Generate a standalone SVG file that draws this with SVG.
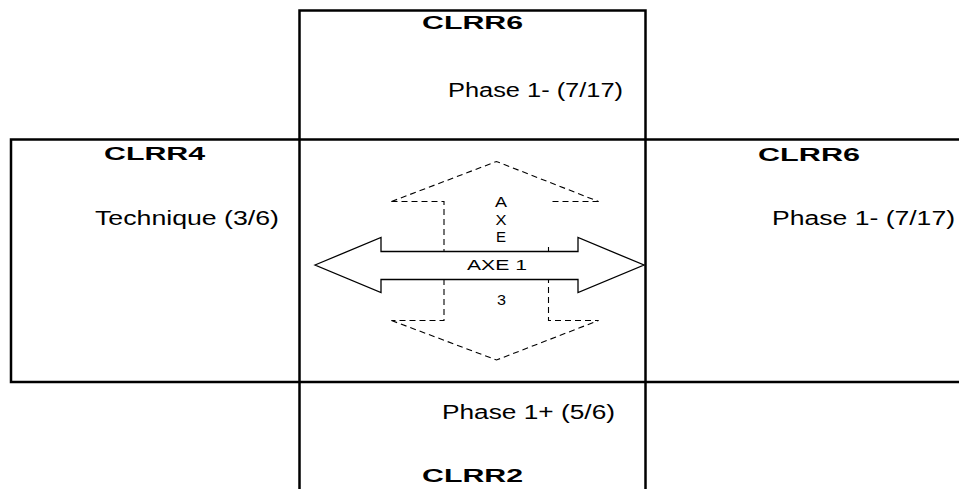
<svg xmlns="http://www.w3.org/2000/svg" width="959" height="489" viewBox="0 0 959 489">
<style>
.box{fill:none;stroke:#000;stroke-width:2.5}
.title{font-family:"Liberation Sans",Arial,sans-serif;font-weight:bold;font-size:19px;fill:#000}
.lbl{font-family:"Liberation Sans",Arial,sans-serif;font-size:20px;fill:#000}
.small{font-family:"Liberation Sans",Arial,sans-serif;font-size:14.5px;fill:#000}
.solid{fill:#fff;stroke:#000;stroke-width:1.3;stroke-linejoin:miter}
.dash{fill:none;stroke:#000;stroke-width:1.1;stroke-dasharray:6,4}
</style>
<rect width="959" height="489" fill="#fff"/>
<g id="frames">
  <rect class="box" x="11" y="139.5" width="960" height="242.5"/>
  <rect class="box" x="299.5" y="10.5" width="346" height="490"/>
</g>
<g id="connectors">
  <g id="axe3">
    <polyline class="dash" points="391.5,201.5 444,201.5 444,320.5 391.5,320.5"/>
    <polyline class="dash" points="598.5,201.5 548.5,201.5"/>
    <polyline class="dash" points="548.5,247 548.5,320.5 598.5,320.5"/>
    <polyline class="dash" points="391.5,201.5 496.5,161.5 598.5,201.5"/>
    <polyline class="dash" points="391.5,320.5 496.5,360 598.5,320.5"/>
  </g>
  <g id="axe1">
    <polygon class="solid" points="315,265 381,237.5 381,251.5 578,251.5 578,237.5 644,265 578,292.5 578,279.5 381,279.5 381,292.5"/>
  </g>
  <text class="small" x="495" y="206.5" textLength="12" lengthAdjust="spacingAndGlyphs">A</text>
  <text class="small" x="495.5" y="225" textLength="11" lengthAdjust="spacingAndGlyphs">X</text>
  <text class="small" x="496" y="241.5" textLength="10" lengthAdjust="spacingAndGlyphs">E</text>
  <text class="small" x="467" y="270" textLength="60" lengthAdjust="spacingAndGlyphs">AXE 1</text>
  <text class="small" x="497" y="305" textLength="9" lengthAdjust="spacingAndGlyphs">3</text>
</g>
<g id="node-clrr6-top">
  <text class="title" x="422" y="29" textLength="101" lengthAdjust="spacingAndGlyphs">CLRR6</text>
  <text class="lbl" x="448" y="97" textLength="175" lengthAdjust="spacingAndGlyphs">Phase 1- (7/17)</text>
</g>
<g id="node-clrr4">
  <text class="title" x="104" y="160" textLength="101" lengthAdjust="spacingAndGlyphs">CLRR4</text>
  <text class="lbl" x="95" y="225" textLength="184" lengthAdjust="spacingAndGlyphs">Technique (3/6)</text>
</g>
<g id="node-clrr6-right">
  <text class="title" x="758" y="160.5" textLength="102" lengthAdjust="spacingAndGlyphs">CLRR6</text>
  <text class="lbl" x="772" y="224.5" textLength="183" lengthAdjust="spacingAndGlyphs">Phase 1- (7/17)</text>
</g>
<g id="node-clrr2">
  <text class="lbl" x="442" y="419" textLength="173" lengthAdjust="spacingAndGlyphs">Phase 1+ (5/6)</text>
  <text class="title" x="422" y="481.5" textLength="101" lengthAdjust="spacingAndGlyphs">CLRR2</text>
</g>
</svg>
